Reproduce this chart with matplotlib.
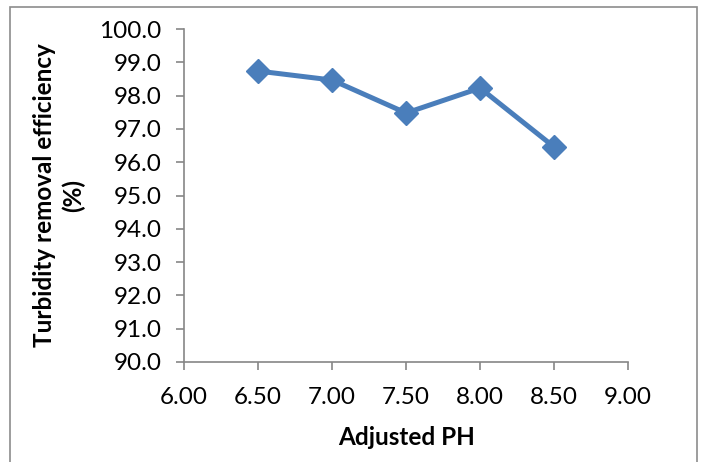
import matplotlib
matplotlib.use("Agg")
import matplotlib.pyplot as plt
from matplotlib.patches import Rectangle

ph = [6.5, 7.0, 7.5, 8.0, 8.5]
efficiency = [98.74, 98.47, 97.48, 98.23, 96.46]

x_ticks = [6.0, 6.5, 7.0, 7.5, 8.0, 8.5, 9.0]
y_ticks = [90, 91, 92, 93, 94, 95, 96, 97, 98, 99, 100]

plt.rcParams["font.family"] = ["Lato", "DejaVu Sans"]

fig = plt.figure(figsize=(7.05, 4.62), dpi=100)
ax = fig.add_axes([0.261, 0.2165, 0.63, 0.7205])

# Outer chart frame
fig.patches.append(
    Rectangle((10 / 705, -0.05), 687 / 705, 1.05 - 7 / 462,
              transform=fig.transFigure, fill=False, edgecolor="#8c8c8c",
              linewidth=1.2)
)

ax.plot(ph, efficiency, color="#4a7ebb", linewidth=3.6, marker="D",
        markersize=12, markeredgecolor="#4a7ebb", markerfacecolor="#4a7ebb",
        clip_on=False)

ax.set_xlim(6.0, 9.0)
ax.set_ylim(90, 100)
ax.set_xticks(x_ticks)
ax.set_yticks(y_ticks)
ax.set_xticklabels([f"{v:.2f}" for v in x_ticks])
ax.set_yticklabels([f"{v:.1f}" for v in y_ticks])

for side in ("top", "right"):
    ax.spines[side].set_visible(False)
for side in ("left", "bottom"):
    ax.spines[side].set_color("#868686")
    ax.spines[side].set_linewidth(1.2)

ax.tick_params(axis="both", direction="out", length=6, width=1.2,
               color="#868686", labelsize=17.5, labelcolor="black")
ax.tick_params(axis="x", pad=12)
ax.tick_params(axis="y", pad=10)

ax.set_xlabel("Adjusted PH", fontsize=17.5, fontweight="bold", labelpad=13)
ax.set_ylabel("Turbidity removal efficiency\n(%)", fontsize=17.5,
              fontweight="bold", labelpad=10, linespacing=1.3)

fig.savefig("out.png", dpi=100)
